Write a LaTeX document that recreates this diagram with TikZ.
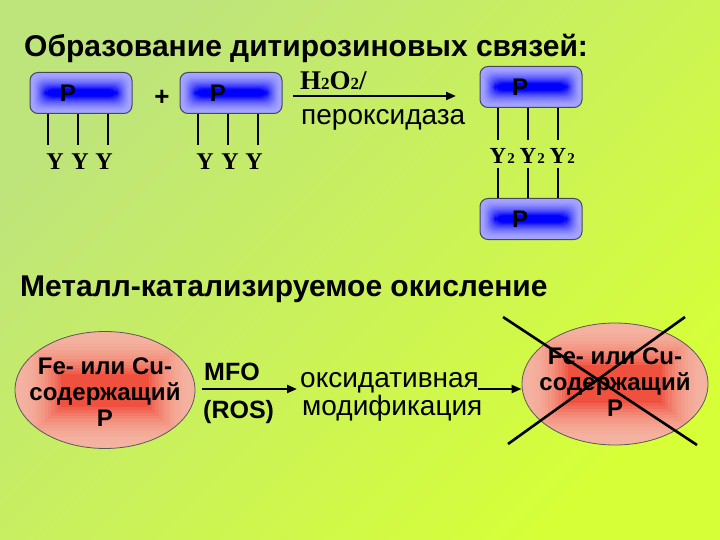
\documentclass[tikz,border=0pt]{standalone}
\usepackage{fontspec}
\setmainfont{Liberation Sans}
\newfontfamily\timesfont{Liberation Serif}
\usetikzlibrary{arrows.meta,shapes.geometric}
\newcommand\fsz[2]{\fontsize{#1}{#2}\selectfont}
\definecolor{bgA}{RGB}{190,228,124}
\definecolor{bgB}{RGB}{214,255,56}
\definecolor{boxout}{RGB}{184,184,255}
\definecolor{boxin}{RGB}{0,0,255}
\definecolor{boxline}{RGB}{70,70,100}
\definecolor{ellout}{RGB}{244,178,160}
\definecolor{ellin}{RGB}{240,80,62}
\tikzset{
  txt/.style={anchor=base west, inner sep=0pt},
  pbox/.style={draw=boxline, line width=1pt, rounded corners=8pt,
    minimum width=102pt, minimum height=41pt, inner sep=0pt,
    path picture={
      \foreach \i in {0,...,15}{
        \pgfmathtruncatemacro\c{10+90*(\i/15)^1.8}
        \fill[boxin!\c!boxout]
          ([xshift=\i*1pt,yshift=-\i*1.12pt]path picture bounding box.north west)
          rectangle
          ([xshift=-\i*1pt,yshift=\i*1.12pt]path picture bounding box.south east);
      }},
    label={[font=\bfseries\fsz{24}{24}, xshift=#1]center:P}},
  pbox/.default=-13pt,
  ell/.style={ellipse, draw=black!65, line width=0.8pt, inner sep=0pt,
    path picture={
      \foreach \i in {0,...,14}{
        \pgfmathtruncatemacro\c{100*(\i/14)^2.2}
        \fill[ellin!\c!ellout]
          ([xshift=\i*3.3pt,yshift=-\i*3pt]path picture bounding box.north west)
          rectangle
          ([xshift=-\i*3.3pt,yshift=\i*3pt]path picture bounding box.south east);
      }}},
  etext/.style={align=center, font=\bfseries\fsz{24}{26}, inner sep=0pt},
  ylab/.style={anchor=base, inner sep=0pt, font=\timesfont\bfseries\fsz{24}{24}},
  ytwo/.style={anchor=base, inner sep=0pt, font=\timesfont\bfseries\fsz{23}{23}},
  stem/.style={line width=2.4pt, black},
  arr/.style={line width=2.2pt, -{Triangle[length=10pt,width=8pt]}},
  crossline/.style={line width=2.6pt, black}
}
\begin{document}
\begin{tikzpicture}[x=1pt,y=-1pt]
\useasboundingbox (0,0) rectangle (720,540);
\shade[top color=bgA, bottom color=bgB, shading angle=45] (0,0) rectangle (720,540);

% title
\node[txt, font=\bfseries\fsz{30}{34}] (title) at (24,57) {Образование дитирозиновых связей:};

% reactant boxes
\node[pbox] (b1) at (81,93) {};
\node[pbox] (b2) at (231,93) {};
\node[font=\bfseries\fsz{26}{26}, inner sep=0pt] (plus) at (162,98) {+};

\foreach \n/\x in {11/55,12/80,13/104,21/205,22/230,23/254}
  \node[ylab] (y\n) at (\x,170) {Y};

\foreach \n/\x in {11/48,12/78,13/108}{
  \coordinate (s\n) at (\x,145);
  \draw[stem] (b1.south -| s\n) -- (s\n);
}
\foreach \n/\x in {21/198,22/228,23/258}{
  \coordinate (s\n) at (\x,145);
  \draw[stem] (b2.south -| s\n) -- (s\n);
}

% arrow with H2O2 / peroxidase
\coordinate (a1s) at (293,96);
\coordinate (a1e) at (456,96);
\draw[arr] (a1s) -- (a1e);
\node[txt, font=\timesfont\bfseries\fsz{27}{27}] (h2o2) at (300,90) {H{\fsz{17}{17}2}O{\fsz{17}{17}2}/};
\node[txt, font=\fsz{28}{32}] (perox) at (301,125) {пероксидаза};

% product
\node[pbox=-11pt] (b3) at (531,87) {};
\node[pbox=-11pt] (b4) at (531,219) {};
\foreach \n/\x in {31/498,32/528,33/558}{
  \node[ytwo] (y\n) at (\x,164) {Y\rlap{\hspace{1pt}\fsz{15}{15}2}};
  \coordinate (t\n) at (\x,140);
  \coordinate (u\n) at (\x,168);
  \draw[stem] (b3.south -| t\n) -- (t\n);
  \draw[stem] (u\n) -- (u\n |- b4.north);
}

% second part
\node[txt, font=\bfseries\fsz{30}{34}] (head2) at (20,296) {Металл-катализируемое окисление};

\node[ell, minimum width=180pt, minimum height=117pt,
      label={[etext, yshift=-2pt]center:{Fe- или Cu-\\содержащий\\P}}] (e1) at (105,390) {};

\node[txt, font=\bfseries\fsz{25}{25}] (mfo) at (204,380) {MFO};
\node[txt, font=\bfseries\fsz{25}{25}] (ros) at (203,418) {(ROS)};
\coordinate (a2s) at (202,389);
\coordinate (a2e) at (297,389);
\draw[arr] (a2s) -- (a2e);

\node[txt, font=\fsz{28}{32}] (oks) at (300,387) {оксидативная};
\node[txt, font=\fsz{28}{32}] (mod) at (302,415) {модификация};

\node[ell, minimum width=186pt, minimum height=122pt,
      label={[etext, yshift=2pt]center:{Fe- или Cu-\\содержащий\\P}}] (e2) at (615,384) {};

\coordinate (a3s) at (478,389);
\draw[arr] (a3s) -- (a3s -| e2.west);

% cross
\coordinate (x1a) at (503,317);
\coordinate (x1b) at (697,445);
\coordinate (x2a) at (685,317);
\coordinate (x2b) at (508,444);
\draw[crossline] (x1a) -- (x1b);
\draw[crossline] (x2a) -- (x2b);
\end{tikzpicture}
\end{document}
